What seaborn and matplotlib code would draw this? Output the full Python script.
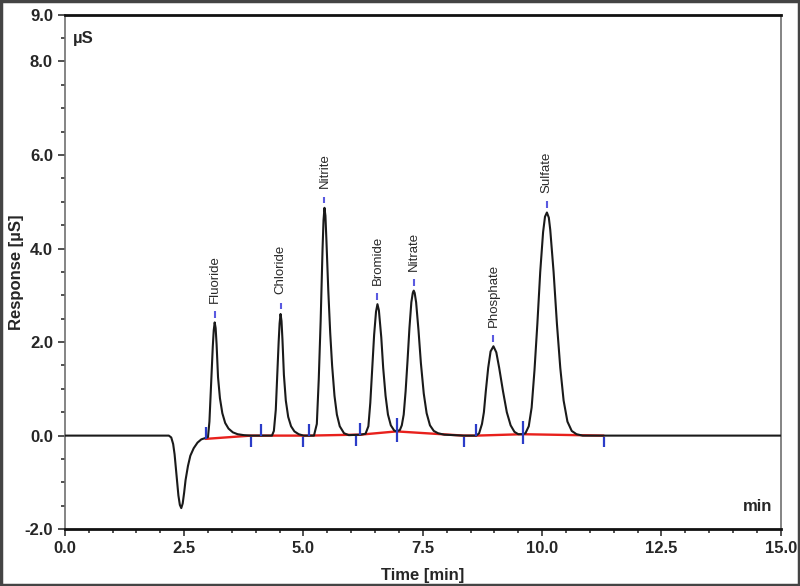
import matplotlib
matplotlib.use("Agg")
import matplotlib.pyplot as plt
from matplotlib.patches import Rectangle
from matplotlib.ticker import MultipleLocator
import pandas as pd
import seaborn as sns


# Chromatogram trace (time in min, response in uS)
TIME = [0.00, 2.18, 2.23, 2.27, 2.30, 2.34, 2.38, 2.41, 2.44, 2.47, 2.50, 2.53, 2.58, 2.63,
        2.70, 2.78, 2.86, 2.95, 3.00, 3.03, 3.07, 3.10, 3.12, 3.14, 3.16, 3.18, 3.21, 3.25,
        3.30, 3.36, 3.43, 3.52, 3.62, 3.75, 3.90, 4.34, 4.38, 4.42, 4.45, 4.48, 4.50, 4.52,
        4.54, 4.56, 4.59, 4.63, 4.68, 4.74, 4.81, 4.90, 5.00, 5.22, 5.28, 5.32, 5.36, 5.40,
        5.42, 5.44, 5.46, 5.48, 5.52, 5.56, 5.60, 5.65, 5.70, 5.76, 5.85, 5.95, 6.20, 6.30,
        6.36, 6.40, 6.44, 6.48, 6.52, 6.55, 6.58, 6.63, 6.67, 6.72, 6.77, 6.83, 6.90, 6.95,
        7.02, 7.06, 7.10, 7.14, 7.18, 7.22, 7.26, 7.29, 7.31, 7.33, 7.36, 7.41, 7.46, 7.52,
        7.58, 7.65, 7.73, 7.82, 7.95, 8.36, 8.62, 8.68, 8.74, 8.78, 8.82, 8.87, 8.92, 8.98,
        9.04, 9.10, 9.18, 9.26, 9.34, 9.42, 9.50, 9.59, 9.65, 9.72, 9.78, 9.84, 9.90, 9.96,
        10.02, 10.06, 10.10, 10.14, 10.17, 10.24, 10.31, 10.38, 10.45, 10.53, 10.62, 10.72,
        10.85, 15.00]
RESPONSE = [0.00, 0.00, -0.04, -0.18, -0.40, -0.85, -1.28, -1.48, -1.55, -1.45, -1.22, -0.95,
            -0.65, -0.43, -0.27, -0.15, -0.08, -0.05, -0.03, 0.30, 1.21, 1.90, 2.25, 2.42,
            2.30, 1.95, 1.25, 0.80, 0.48, 0.27, 0.15, 0.07, 0.03, 0.01, 0.00, 0.00, 0.10, 0.55,
            1.30, 2.00, 2.40, 2.60, 2.45, 2.05, 1.30, 0.75, 0.40, 0.20, 0.09, 0.03, 0.00, 0.00,
            0.25, 1.20, 2.45, 4.00, 4.60, 4.87, 4.70, 4.20, 3.10, 2.20, 1.50, 0.85, 0.45, 0.20,
            0.05, 0.01, 0.02, 0.04, 0.20, 0.70, 1.42, 2.15, 2.65, 2.81, 2.68, 2.10, 1.45, 0.85,
            0.45, 0.22, 0.11, 0.09, 0.12, 0.22, 0.45, 0.95, 1.60, 2.30, 2.85, 3.05, 3.10, 3.05,
            2.85, 2.25, 1.55, 0.90, 0.48, 0.22, 0.10, 0.05, 0.02, 0.00, 0.00, 0.05, 0.25, 0.50,
            0.95, 1.45, 1.80, 1.91, 1.78, 1.45, 0.95, 0.50, 0.22, 0.08, 0.03, 0.03, 0.05, 0.20,
            0.60, 1.40, 2.39, 3.50, 4.35, 4.68, 4.77, 4.66, 4.40, 3.50, 2.39, 1.45, 0.75, 0.30,
            0.10, 0.03, 0.00, 0.00]

# Identified peaks
PEAK_NAMES = ["Fluoride", "Chloride", "Nitrite", "Bromide", "Nitrate", "Phosphate", "Sulfate"]
PEAK_TIMES = [3.14, 4.52, 5.44, 6.55, 7.31, 8.98, 10.10]
PEAK_HEIGHTS = [2.42, 2.60, 4.87, 2.81, 3.10, 1.91, 4.77]

# Integration baseline and its start/end markers
BASE_TIMES = [2.95, 3.90, 4.11, 4.99, 5.11, 6.10, 6.19, 6.95, 8.36, 8.62, 9.59, 11.29]
BASE_VALUES = [-0.07, 0.00, 0.00, 0.00, 0.00, 0.02, 0.02, 0.09, 0.00, 0.00, 0.03, 0.00]
BASE_MARKS = ["up", "down", "up", "down", "up", "down", "up", "both", "down", "up", "both", "down"]

Y_TICKS = [-2.0, 0.0, 2.0, 4.0, 6.0, 8.0, 9.0]
X_TICKS = [0.0, 2.5, 5.0, 7.5, 10.0, 12.5, 15.0]

sns.set_style("ticks")
plt.rcParams["font.family"] = ["Liberation Sans Narrow", "Liberation Sans", "DejaVu Sans"]

fig = plt.figure(figsize=(8.0, 5.86), dpi=100)
ax = fig.add_axes([0.081, 0.097, 0.895, 0.878])

trace = pd.DataFrame({"time": TIME, "response": RESPONSE})
sns.lineplot(data=trace, x="time", y="response", color="#1a1a1a", lw=1.5, sort=False,
             estimator=None, ax=ax, zorder=3)

base = pd.DataFrame({"time": BASE_TIMES, "value": BASE_VALUES})
sns.lineplot(data=base, x="time", y="value", color="#e8201c", lw=1.7, sort=False,
             estimator=None, ax=ax, zorder=2)

for t, v, kind in zip(BASE_TIMES, BASE_VALUES, BASE_MARKS):
    if kind == "up":
        lo, hi = v, v + 0.25
    elif kind == "down":
        lo, hi = v - 0.25, v - 0.03
    else:
        lo, hi = v - 0.22, v + 0.28
    ax.vlines(t, lo, hi, color="#2b3cc8", lw=1.6, zorder=4)

for name, t, h in zip(PEAK_NAMES, PEAK_TIMES, PEAK_HEIGHTS):
    ax.vlines(t, h + 0.1, h + 0.24, color="#5a5ae0", lw=1.5, zorder=4)
    ax.text(t, h + 0.42, name, rotation=90, ha="center", va="bottom", fontsize=9.5,
            color="#2a2a2a", family=["Liberation Sans", "DejaVu Sans"])

ax.set_xlim(0, 15)
ax.set_ylim(-2, 9)
ax.set_xticks(X_TICKS)
ax.set_xticklabels([f"{x:.1f}" for x in X_TICKS])
ax.set_yticks(Y_TICKS)
ax.set_yticklabels([f"{y:.1f}" for y in Y_TICKS])
ax.xaxis.set_minor_locator(MultipleLocator(0.5))
ax.yaxis.set_minor_locator(MultipleLocator(0.5))
ax.tick_params(axis="both", which="major", labelsize=12, length=5, width=1.2, color="#333333")
ax.tick_params(axis="both", which="minor", length=3, width=1.2, color="#333333")
for lab in ax.get_xticklabels() + ax.get_yticklabels():
    lab.set_fontweight("bold")

ax.set_xlabel("Time [min]", fontsize=12, fontweight="bold")
ax.xaxis.set_label_coords(0.5, -0.075)
ax.set_ylabel("Response [µS]", fontsize=12, fontweight="bold",
              family=["Liberation Sans", "DejaVu Sans"])
ax.yaxis.set_label_coords(-0.057, 0.5)

ax.text(0.011, 0.945, "µS", transform=ax.transAxes, fontsize=12, fontweight="bold",
        family=["Liberation Sans", "DejaVu Sans"])
ax.text(0.988, 0.035, "min", transform=ax.transAxes, fontsize=12, fontweight="bold",
        ha="right", family=["Liberation Sans", "DejaVu Sans"])

for side in ["left", "right"]:
    ax.spines[side].set_color("#707070")
    ax.spines[side].set_linewidth(1.2)
for side in ["top", "bottom"]:
    ax.spines[side].set_color("#111111")
    ax.spines[side].set_linewidth(2.0)

# frame around the whole picture
fig.patches.append(Rectangle((0.001, 0.001), 0.998, 0.998, transform=fig.transFigure,
                             fill=False, edgecolor="#444444", lw=2.5))

fig.savefig("out.png", dpi=100)
